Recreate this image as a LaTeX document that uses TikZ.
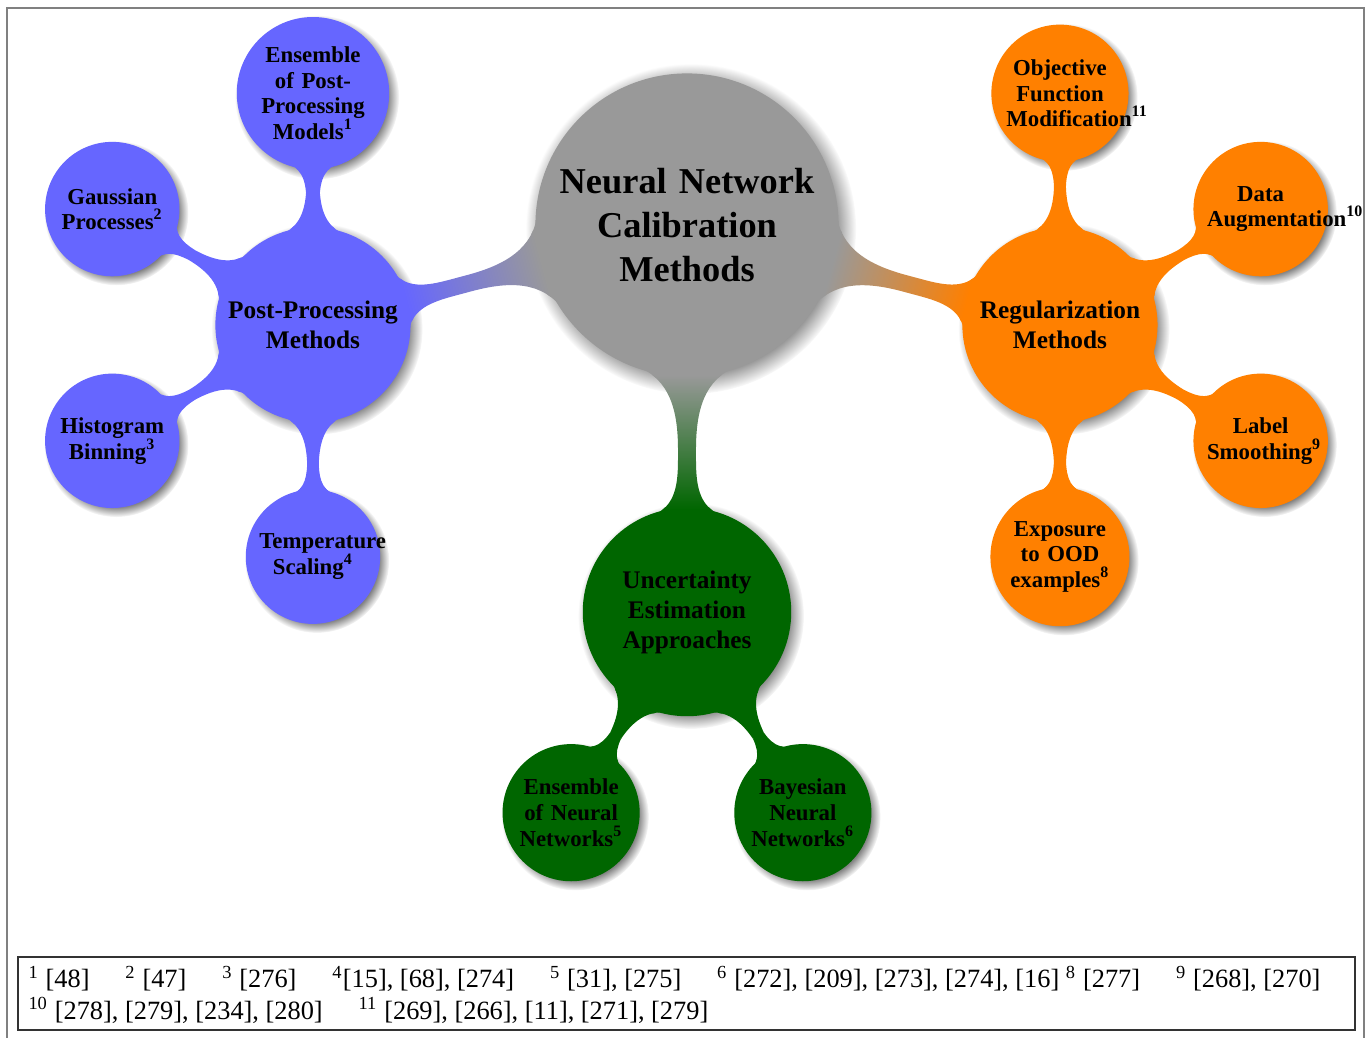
\documentclass[tikz,border=0pt]{standalone}
\usepackage{fontspec}
\setmainfont{Liberation Serif}
\usetikzlibrary{mindmap,shadows}

\newcommand{\notegap}{\hspace{13.6pt}}

\tikzset{
  rootidea/.style={concept, circle, minimum size=4cm, text width=3.4cm, inner sep=1pt, align=center, text=black, font=\fontsize{13.8}{16.7}\selectfont\bfseries, circular drop shadow},
  mainidea/.style={concept, circle, minimum size=2.5cm, text width=2.4cm, inner sep=1pt, align=center, text=black, font=\fontsize{9.6}{11.4}\selectfont\bfseries, circular drop shadow},
  subidea/.style={concept, circle, minimum size=1.75cm, text width=1.43cm, inner sep=1pt, align=center, text=black, font=\fontsize{8.65}{9.75}\selectfont\bfseries, circular drop shadow},
  rootcol/.style={concept color=black!40},
  ppcol/.style={concept color=blue!60},
  regcol/.style={concept color=orange},
  unccol/.style={concept color=green!40!black},
  noteline/.style={anchor=base west, inner sep=0pt, font=\normalsize},
}

\begin{document}
\begin{tikzpicture}
\useasboundingbox (0,0) rectangle (18.227,-13.84);
\draw [gray, line width=0.6pt] (0.093,-13.84) |- (18.187,-0.107) -- (18.187,-13.84);
\begin{scope}[mindmap]
\node [rootcol, rootidea] (calib) at (9.16,-3) {Neural Network\\Calibration\\Methods};
\node [ppcol, mainidea] (post) at (4.173,-4.333) {Post-Processing\\Methods};
\node [regcol, mainidea] (reg) at (14.133,-4.333) {Regularization\\Methods};
\node [unccol, mainidea] (unc) at (9.16,-8.16) {Uncertainty\\Estimation\\Approaches};
\node [ppcol, subidea] (ens) at (4.173,-1.243) {Ensemble\\of Post-\\Processing\\Models\textsuperscript{1}};
\node [ppcol, subidea] (gp) at (1.497,-2.788) {Gaussian\\Processes\textsuperscript{2}};
\node [ppcol, subidea] (hist) at (1.497,-5.878) {Histogram\\Binning\textsuperscript{3}};
\node [ppcol, subidea] (temp) at (4.173,-7.423) {Temperature\\Scaling\textsuperscript{4}};
\node [regcol, subidea] (obj) at (14.133,-1.243) {Objective\\Function\\Modification\textsuperscript{11}};
\node [regcol, subidea] (aug) at (16.809,-2.788) {Data\\Augmentation\textsuperscript{10}};
\node [regcol, subidea] (ls) at (16.809,-5.878) {Label\\Smoothing\textsuperscript{9}};
\node [regcol, subidea] (ood) at (14.133,-7.423) {Exposure\\to OOD\\examples\textsuperscript{8}};
\node [unccol, subidea] (enn) at (7.615,-10.836) {Ensemble\\of Neural\\Networks\textsuperscript{5}};
\node [unccol, subidea] (bnn) at (10.705,-10.836) {Bayesian\\Neural\\Networks\textsuperscript{6}};
\path (calib) to [circle connection bar switch color=from (black!40) to (blue!60)] (post);
\path (calib) to [circle connection bar switch color=from (black!40) to (orange)] (reg);
\path (calib) to [circle connection bar switch color=from (black!40) to (green!40!black)] (unc);
\foreach \kid in {ens,gp,hist,temp}
  \path (post) to [circle connection bar switch color=from (blue!60) to (blue!60)] (\kid);
\foreach \kid in {obj,aug,ls,ood}
  \path (reg) to [circle connection bar switch color=from (orange) to (orange)] (\kid);
\foreach \kid in {enn,bnn}
  \path (unc) to [circle connection bar switch color=from (green!40!black) to (green!40!black)] (\kid);
\end{scope}
\draw [black!80, line width=0.5pt] (0.24,-12.76) rectangle (18.067,-13.733);
\node [noteline] (notesa) at (0.373,-13.173) {\textsuperscript{1} [48]\notegap\textsuperscript{2} [47]\notegap\textsuperscript{3} [276]\notegap\textsuperscript{4}[15], [68], [274]\notegap\textsuperscript{5} [31], [275]\notegap\textsuperscript{6} [272], [209], [273], [274], [16] \textsuperscript{8} [277]\notegap\textsuperscript{9} [268], [270]};
\node [noteline] (notesb) at (0.373,-13.587) {\textsuperscript{10} [278], [279], [234], [280]\notegap\textsuperscript{11} [269], [266], [11], [271], [279]};
\end{tikzpicture}
\end{document}
